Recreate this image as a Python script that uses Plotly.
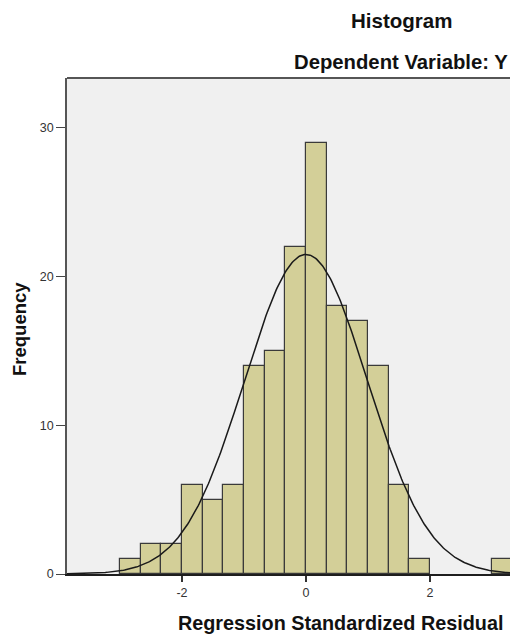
import numpy as np
import plotly.graph_objects as go

# Histogram bins (left edges, width 1/3) and counts
bin_width = 1.0 / 3.0
bin_starts = [-3.0, -8/3, -7/3, -2.0, -5/3, -4/3, -1.0, -2/3, -1/3, 0.0,
              1/3, 2/3, 1.0, 4/3, 5/3, 3.0, 10/3]
counts = [1, 2, 2, 6, 5, 6, 14, 15, 22, 29, 18, 17, 14, 6, 1, 1, 1]

# Normal curve parameters (as reported by SPSS for the residuals)
curve_mean = 0.0
curve_std = 0.99
n_total = sum(counts)

x_ticks = [-2, 0, 2]
y_ticks = [0, 10, 20, 30]

x_range = [-3.855, 3.42]
y_range = [0, 33.36]

centers = [s + bin_width / 2 for s in bin_starts]

xs = np.linspace(x_range[0], x_range[1], 400)
ys = n_total * bin_width / (curve_std * np.sqrt(2 * np.pi)) * np.exp(-0.5 * ((xs - curve_mean) / curve_std) ** 2)

FONT = "Arial, Liberation Sans, sans-serif"

W, H = 518, 636
OFF = 8  # page body margin offset
ML, MR, MT, MB = 67 - OFF, OFF, 78 - OFF, 62 + OFF

fig = go.Figure()
fig.add_trace(go.Bar(
    x=centers, y=counts, width=[bin_width] * len(counts),
    marker=dict(color="#d3cf98", line=dict(color="#3a3a3a", width=1.2)),
    hoverinfo="x+y", showlegend=False,
))
fig.add_trace(go.Scatter(
    x=xs, y=ys, mode="lines",
    line=dict(color="#1a1a1a", width=1.5),
    hoverinfo="skip", showlegend=False,
))

fig.update_layout(
    width=W, height=H,
    margin=dict(l=ML, r=MR, t=MT, b=MB, autoexpand=False),
    paper_bgcolor="white",
    plot_bgcolor="#f0f0f0",
    font=dict(family=FONT, size=12, color="#222222"),
    bargap=0,
    xaxis=dict(
        range=x_range, tickvals=x_ticks, ticktext=[str(v) for v in x_ticks],
        showgrid=False, zeroline=False, automargin=False,
        showline=True, linecolor="#1e1e1e", linewidth=2, mirror=False,
        ticks="outside", ticklen=6, tickcolor="#333333", tickwidth=1.5,
        tickfont=dict(size=12.5, color="#333333"),
    ),
    yaxis=dict(
        range=y_range, tickvals=y_ticks, ticktext=[str(v) for v in y_ticks],
        showgrid=False, zeroline=False, automargin=False,
        showline=True, linecolor="#555555", linewidth=1.5, mirror=False,
        ticks="outside", ticklen=9, tickcolor="#444444", tickwidth=1.2,
        tickfont=dict(size=12.5, color="#333333"),
    ),
    shapes=[dict(type="line", xref="paper", yref="paper", x0=0, x1=1, y0=1, y1=1,
                 line=dict(color="#555555", width=2))],
)

pw = W - ML - MR
ph = H - MT - MB


def px_annot(text, px, py, size, angle=0):
    # px, py are window pixel positions; convert to figure paper coords
    fx, fy = px - OFF, py - OFF
    fig.add_annotation(
        text=text, xref="paper", yref="paper",
        x=(fx - ML) / pw, y=1 - (fy - MT) / ph,
        xanchor="center", yanchor="middle", textangle=angle,
        showarrow=False, font=dict(size=size, color="#111111", family=FONT),
    )


px_annot("<b>Histogram</b>", 401, 21, 20.5)
px_annot("<b>Dependent Variable: Y</b>", 401, 62, 20.3)
px_annot("<b>Regression Standardized Residual</b>", 340, 623, 19.8)
px_annot("<b>Frequency</b>", 19, 329, 18.5, angle=-90)

fig.write_html("out.html")
